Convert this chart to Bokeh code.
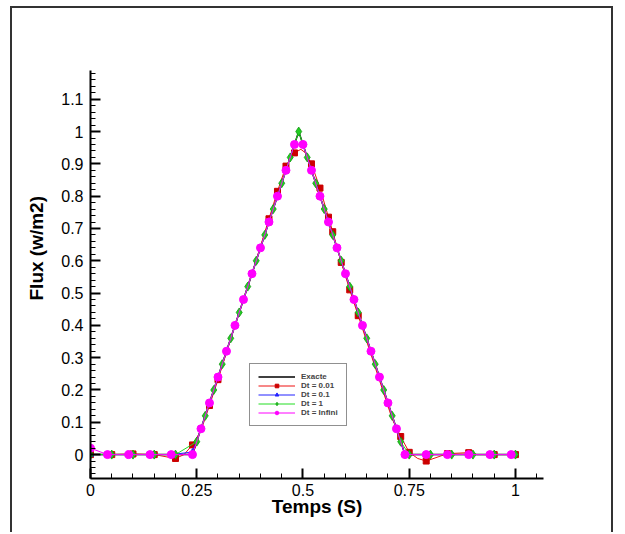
from bokeh.plotting import figure
from bokeh.models import (FixedTicker, CustomJSTickFormatter, Legend, LegendItem,
                          Range1d, Title)
from bokeh.embed import file_html
from bokeh.resources import INLINE

# ---------------- data ----------------
exact_t = [0, 0.24, 0.49, 0.74, 1.0]
exact_y = [0, 0, 1.0, 0, 0]

# Dt = 0.01 (line points)
red_t = [0, 0.05, 0.10, 0.15, 0.20, 0.22, 0.24, 0.26, 0.28, 0.30, 0.34, 0.38, 0.42, 0.44,
         0.46, 0.48, 0.495, 0.505, 0.52, 0.54, 0.56, 0.57, 0.59, 0.61, 0.63, 0.67, 0.71,
         0.73, 0.75, 0.77, 0.79, 0.84, 0.89, 0.91, 0.95, 1.0]
red_y = [0, 0, 0.002, 0, -0.012, 0.0, 0.03, 0.075, 0.152, 0.232, 0.40, 0.56, 0.73, 0.815,
         0.893, 0.934, 0.945, 0.935, 0.90, 0.825, 0.735, 0.69, 0.595, 0.51, 0.43, 0.27, 0.11,
         0.056, 0.007, -0.012, -0.02, 0.003, 0.006, 0.0, 0, 0]
# Dt = 0.01 (symbols)
red_mt = [0, 0.05, 0.10, 0.15, 0.20, 0.24, 0.28, 0.30, 0.42, 0.44, 0.46, 0.48, 0.52, 0.54,
          0.56, 0.57, 0.59, 0.61, 0.63, 0.73, 0.75, 0.79, 0.84, 0.89, 0.95, 1.0]
red_my = [0, 0, 0.002, 0, -0.012, 0.03, 0.152, 0.232, 0.73, 0.815, 0.893, 0.934, 0.90, 0.825,
          0.735, 0.69, 0.595, 0.51, 0.43, 0.056, 0.007, -0.02, 0.003, 0.006, 0, 0]

# Dt = 0.1
blue_t = [0, 0.04, 0.09, 0.14, 0.19, 0.24, 0.26, 0.28, 0.30, 0.32, 0.34, 0.36, 0.38, 0.40,
          0.42, 0.44, 0.46, 0.48, 0.50, 0.52, 0.54, 0.56, 0.58, 0.60, 0.62, 0.64, 0.66, 0.68,
          0.70, 0.72, 0.74, 0.79, 0.84, 0.89, 0.94, 0.99]
blue_y = [0, 0, 0, 0, 0, 0.008, 0.08, 0.16, 0.24, 0.32, 0.40, 0.48, 0.56, 0.64,
          0.72, 0.80, 0.88, 0.96, 0.96, 0.88, 0.80, 0.72, 0.64, 0.56, 0.48, 0.40, 0.32, 0.24,
          0.16, 0.08, 0, 0, 0, 0, 0, 0]

# Dt = 1
green_t = [0, 0.05, 0.10, 0.15, 0.20, 0.25, 0.27, 0.29, 0.31, 0.33, 0.35, 0.37, 0.39, 0.41,
           0.43, 0.45, 0.47, 0.49, 0.51, 0.53, 0.55, 0.57, 0.59, 0.61, 0.63, 0.65, 0.67, 0.69,
           0.71, 0.73, 0.75, 0.80, 0.85, 0.90, 0.95, 1.0]
green_y = [0, 0, 0, 0, 0, 0.04, 0.12, 0.20, 0.28, 0.36, 0.44, 0.52, 0.60, 0.68,
           0.76, 0.84, 0.92, 1.00, 0.92, 0.84, 0.76, 0.68, 0.60, 0.52, 0.44, 0.36, 0.28, 0.20,
           0.12, 0.04, 0, 0, 0, 0, 0, 0]

# Dt = Infini
mag_t = [0, 0.04, 0.09, 0.14, 0.19, 0.24, 0.26, 0.28, 0.30, 0.32, 0.34, 0.36, 0.38, 0.40,
         0.42, 0.44, 0.46, 0.48, 0.50, 0.52, 0.54, 0.56, 0.58, 0.60, 0.62, 0.64, 0.66, 0.68,
         0.70, 0.72, 0.74, 0.79, 0.84, 0.89, 0.94, 0.99]
mag_y = [0.02, 0, 0, 0, 0, 0, 0.08, 0.16, 0.24, 0.32, 0.40, 0.48, 0.56, 0.64,
         0.72, 0.80, 0.88, 0.96, 0.96, 0.88, 0.80, 0.72, 0.64, 0.56, 0.48, 0.40, 0.32, 0.24,
         0.16, 0.08, 0, 0, 0, 0, 0, 0]

x_ticks = [0, 0.25, 0.5, 0.75, 1.0]
x_minor = [0.05, 0.1, 0.15, 0.2, 0.3, 0.35, 0.4, 0.45, 0.55, 0.6, 0.65, 0.7, 0.8, 0.85,
           0.9, 0.95, 1.05]
y_ticks = [0, 0.1, 0.2, 0.3, 0.4, 0.5, 0.6, 0.7, 0.8, 0.9, 1.0, 1.1]
y_minor = [round(-0.06 + 0.02 * i, 2) for i in range(63)]

FONT = "Liberation Sans"

p = figure(width=603, height=526, output_backend="svg", toolbar_location=None,
           x_range=Range1d(0, 1.066), y_range=Range1d(-0.074, 1.189),
           min_border_left=78, min_border_right=72, min_border_top=62, min_border_bottom=56,
           background_fill_color="white", border_fill_color="white")
p.outline_line_color = None
p.grid.visible = False
# outer frame of the picture (open at the bottom)
p.styles = {
    "margin-left": "10px",
    "margin-top": "6px",
    "border-left": "2px solid #333333",
    "border-top": "2px solid #333333",
    "border-right": "2px solid #333333",
}

for ax in (p.xaxis[0], p.yaxis[0]):
    ax.axis_line_width = 2
    ax.major_tick_line_width = 2
    ax.major_tick_in = 10
    ax.major_tick_out = 0
    ax.minor_tick_in = 5
    ax.minor_tick_out = 0
    ax.minor_tick_line_width = 1
    ax.major_label_text_font = FONT
    ax.major_label_text_font_size = "16px"
    ax.major_label_text_color = "black"
    ax.formatter = CustomJSTickFormatter(code="return String(Math.round(tick*100)/100);")

p.xaxis.ticker = FixedTicker(ticks=x_ticks, minor_ticks=x_minor)
p.yaxis.ticker = FixedTicker(ticks=y_ticks, minor_ticks=y_minor)
p.xaxis.major_label_standoff = 5
p.yaxis.major_label_standoff = 7

p.xaxis.axis_label = "Temps (S)"
p.xaxis.axis_label_text_font = FONT
p.xaxis.axis_label_text_font_size = "19px"
p.xaxis.axis_label_text_font_style = "bold"
p.xaxis.axis_label_text_color = "black"
p.xaxis.axis_label_standoff = -3

ytitle = Title(text="Flux (w/m2)", align="left", offset=178, text_font=FONT,
               vertical_align="top", standoff=20,
               text_font_size="19px", text_font_style="bold", text_color="black")
p.add_layout(ytitle, "left")

# series
r_ex = p.line(exact_t, exact_y, line_color="black", line_width=1.5)

r_red_l = p.line(red_t, red_y, line_color="#ee1111", line_width=1)
r_red_m = p.scatter(red_mt, red_my, marker="square", size=6, fill_color="#cc0000",
                    line_color="#cc0000")

r_blue_l = p.line(blue_t, blue_y, line_color="#2222ff", line_width=1)
r_blue_m = p.scatter(blue_t, blue_y, marker="triangle", size=6, fill_color="#2222ff",
                     line_color="#2222ff")

r_gr_l = p.line(green_t, green_y, line_color="#22dd22", line_width=1)
r_gr_m = p.scatter(green_t, green_y, marker="diamond", size=9, fill_color="#22cc22",
                   line_color="#119911", line_width=0.8)

r_mg_l = p.line(mag_t, mag_y, line_color="#ff00ff", line_width=1)
r_mg_m = p.scatter(mag_t, mag_y, marker="circle", size=8, fill_color="#ff00ff",
                   line_color="#ff00ff")

legend = Legend(items=[
    LegendItem(label="Exacte", renderers=[r_ex]),
    LegendItem(label="Dt = 0.01", renderers=[r_red_l, r_red_m]),
    LegendItem(label="Dt = 0.1", renderers=[r_blue_l, r_blue_m]),
    LegendItem(label="Dt = 1", renderers=[r_gr_l, r_gr_m]),
    LegendItem(label="Dt = Infini", renderers=[r_mg_l, r_mg_m]),
], location=(159, 52))
legend.border_line_color = "#222222"
legend.border_line_width = 1.5
legend.background_fill_color = "white"
legend.background_fill_alpha = 1
legend.padding = 8
legend.spacing = 0
legend.margin = 0
legend.label_height = 9
legend.glyph_height = 9
legend.glyph_width = 37
legend.label_standoff = 6
legend.label_text_font = FONT
legend.label_text_font_size = "8px"
legend.label_text_font_style = "bold"
legend.label_text_baseline = "middle"
p.add_layout(legend)

open("out.html", "w").write(file_html(p, INLINE))
